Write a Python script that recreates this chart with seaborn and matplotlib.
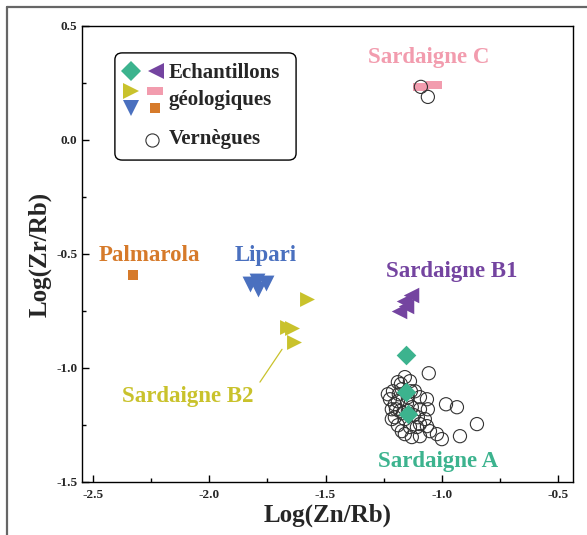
import numpy as np
import pandas as pd
import matplotlib
matplotlib.use("Agg")
import matplotlib.pyplot as plt
from matplotlib.path import Path
from matplotlib.markers import MarkerStyle
from matplotlib.patches import FancyBboxPatch
from matplotlib.lines import Line2D
from matplotlib.ticker import MultipleLocator, FormatStrFormatter
import seaborn as sns

# --- data ---
palmarola_x = [-2.328]
palmarola_y = [-0.590]

sard_c_x = [-1.090, -1.034]
sard_c_y = [0.233, 0.242]

lipari_x = [-1.825, -1.795, -1.791, -1.756]
lipari_y = [-0.633, -0.620, -0.655, -0.629]

sard_b2_x = [-1.580, -1.666, -1.644, -1.636]
sard_b2_y = [-0.699, -0.822, -0.826, -0.887]

sard_b1_x = [-1.133, -1.163, -1.184, -1.154]
sard_b1_y = [-0.682, -0.708, -0.752, -0.730]

sard_a_x = [-1.154, -1.154, -1.146]
sard_a_y = [-0.944, -1.106, -1.202]

vernegues_x = [-1.090, -1.060,
               -1.056, -1.159, -1.189, -1.137, -1.210, -1.172, -1.116, -1.223,
               -1.189, -1.146, -1.094, -1.064, -1.215, -1.180, -1.129, -1.094,
               -1.060, -0.982, -0.935, -1.202, -1.159, -1.103, -1.073, -1.189,
               -1.137, -1.094, -1.172, -1.129, -1.094, -1.051, -1.021, -1.000,
               -0.922, -0.849, -1.232, -1.215, -1.150, -1.167, -1.120, -1.185,
               -1.133, -1.202, -1.107, -1.064, -1.159, -1.197, -1.146, -1.176]
vernegues_y = [0.233, 0.189,
               -1.023, -1.040, -1.062, -1.058, -1.102, -1.093, -1.102, -1.137,
               -1.146, -1.128, -1.128, -1.137, -1.181, -1.189, -1.172, -1.181,
               -1.181, -1.159, -1.172, -1.216, -1.224, -1.216, -1.224, -1.251,
               -1.259, -1.246, -1.277, -1.303, -1.299, -1.277, -1.290, -1.312,
               -1.299, -1.246, -1.115, -1.224, -1.154, -1.198, -1.207, -1.115,
               -1.102, -1.159, -1.259, -1.255, -1.290, -1.181, -1.189, -1.071]

group_labels = ["Sardaigne C", "Palmarola", "Lipari", "Sardaigne B1",
                "Sardaigne B2", "Sardaigne A"]
label_x = [-1.056, -2.255, -1.756, -0.957, -2.092, -1.017]
label_y = [0.360, -0.507, -0.507, -0.577, -1.124, -1.408]

# leader line Sardaigne B2 label -> points
b2_line_x = [-1.782, -1.687]
b2_line_y = [-1.062, -0.918]

GREEN = "#3cb38e"
PURPLE = "#7444a0"
YELLOW = "#c9c22c"
PINK = "#f29cae"
BLUE = "#4a70bf"
ORANGE = "#d67a2a"
label_colors = [PINK, ORANGE, BLUE, PURPLE, YELLOW, GREEN]

rect_marker = MarkerStyle(Path([(-1, -0.55), (1, -0.55), (1, 0.55), (-1, 0.55), (-1, -0.55)],
                               [Path.MOVETO, Path.LINETO, Path.LINETO, Path.LINETO, Path.CLOSEPOLY]))

sns.set_style("ticks")
plt.rcParams["font.family"] = ["Liberation Serif", "DejaVu Serif"]
plt.rcParams["font.weight"] = "bold"

fig = plt.figure(figsize=(5.87, 5.35), dpi=100)
ax = fig.add_axes([82 / 587, 1 - 482 / 535, 491 / 587, 456 / 535])

kw = dict(ax=ax, linewidth=0, legend=False, zorder=3)
sns.scatterplot(x=palmarola_x, y=palmarola_y, marker="s", s=55, color=ORANGE, **kw)
sns.scatterplot(x=sard_c_x, y=sard_c_y, marker=rect_marker, s=125, color=PINK, **kw)
sns.scatterplot(x=lipari_x, y=lipari_y, marker="v", s=130, color=BLUE, **kw)
sns.scatterplot(x=sard_b2_x, y=sard_b2_y, marker=">", s=115, color=YELLOW, **kw)
sns.scatterplot(x=sard_b1_x, y=sard_b1_y, marker="<", s=125, color=PURPLE, **kw)
sns.scatterplot(x=vernegues_x, y=vernegues_y, marker="o", s=90, facecolors="none",
                edgecolor="#333333", linewidth=0.8, ax=ax, legend=False, zorder=4)
sns.scatterplot(x=sard_a_x, y=sard_a_y, marker="D", s=100, color=GREEN,
                linewidth=0, ax=ax, legend=False, zorder=5)

ax.plot(b2_line_x, b2_line_y, color=YELLOW, lw=0.9, zorder=2)

for lab, lx, ly, c in zip(group_labels, label_x, label_y, label_colors):
    ax.text(lx, ly, lab, color=c, fontsize=16.5, fontweight="bold",
            ha="center", va="center")

ax.set_xlim(-2.547, -0.436)
ax.set_ylim(-1.5, 0.5)
ax.xaxis.set_major_locator(MultipleLocator(0.5))
ax.xaxis.set_minor_locator(MultipleLocator(0.25))
ax.yaxis.set_major_locator(MultipleLocator(0.5))
ax.yaxis.set_minor_locator(MultipleLocator(0.25))
ax.xaxis.set_major_formatter(FormatStrFormatter("%.1f"))
ax.yaxis.set_major_formatter(FormatStrFormatter("%.1f"))
ax.tick_params(which="both", direction="in", width=1.0, color="black",
               labelsize=9.5, top=False, right=False)
ax.tick_params(axis="x", which="major", pad=5)
ax.tick_params(which="major", length=5)
ax.tick_params(which="minor", length=3)
for t in ax.get_xticklabels() + ax.get_yticklabels():
    t.set_fontweight("bold")
for sp in ax.spines.values():
    sp.set_visible(True)
    sp.set_linewidth(1.0)
    sp.set_color("black")

ax.set_xlabel("Log(Zn/Rb)", fontsize=18, fontweight="bold", labelpad=2)
ax.set_ylabel("Log(Zr/Rb)", fontsize=18, fontweight="bold", labelpad=3)

# legend box drawn by hand (two-column key block)
box = FancyBboxPatch((0.067, 0.706), 0.369, 0.235, transform=ax.transAxes,
                     boxstyle="round,pad=0,rounding_size=0.015", fc="white",
                     ec="black", lw=1.0, zorder=6)
ax.add_patch(box)
keys = [(0.100, 0.901, "D", GREEN, 10), (0.151, 0.901, "<", PURPLE, 11.5),
        (0.100, 0.857, ">", YELLOW, 11.5), (0.149, 0.857, rect_marker, PINK, 11.5),
        (0.100, 0.820, "v", BLUE, 11.5), (0.149, 0.820, "s", ORANGE, 7.5)]
for kx, ky, m, c, ms in keys:
    ax.plot([kx], [ky], marker=m, color=c, ms=ms, mew=0, transform=ax.transAxes, zorder=7)
ax.plot([0.143], [0.750], marker="o", mfc="none", mec="#333333", ms=9.5, mew=0.8,
        transform=ax.transAxes, zorder=7)
ax.text(0.177, 0.897, "Echantillons", transform=ax.transAxes, fontsize=15,
        fontweight="bold", va="center", ha="left", zorder=7)
ax.text(0.177, 0.838, "géologiques", transform=ax.transAxes, fontsize=15,
        fontweight="bold", va="center", ha="left", zorder=7)
ax.text(0.177, 0.752, "Vernègues", transform=ax.transAxes, fontsize=15,
        fontweight="bold", va="center", ha="left", zorder=7)

# outer frame (top and left edges visible in the reference)
fig.add_artist(Line2D([7 / 587, 1.0], [1 - 7 / 535, 1 - 7 / 535], color="#666666", lw=1.6))
fig.add_artist(Line2D([7 / 587, 7 / 587], [0.0, 1 - 7 / 535], color="#666666", lw=1.6))

fig.savefig("out.png", dpi=100, facecolor="white")
